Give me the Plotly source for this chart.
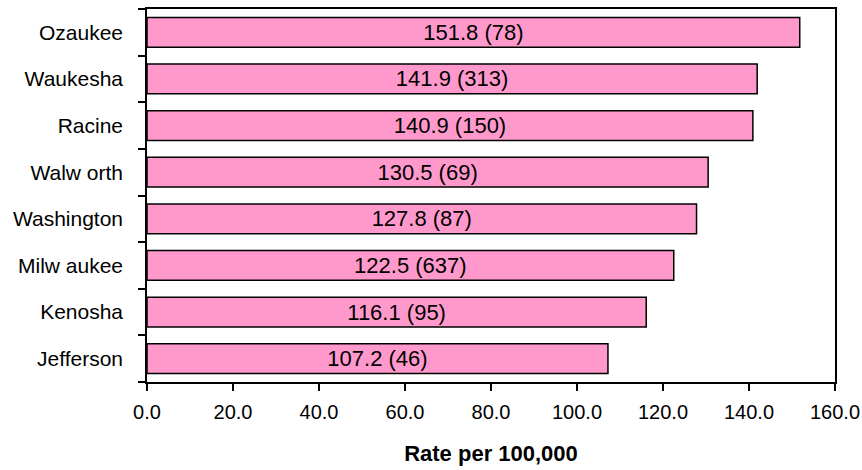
import plotly.graph_objects as go

counties = ["Jefferson", "Kenosha", "Milw aukee", "Washington", "Walw orth", "Racine", "Waukesha", "Ozaukee"]
rates = [107.2, 116.1, 122.5, 127.8, 130.5, 140.9, 141.9, 151.8]
counts = [46, 95, 637, 87, 69, 150, 313, 78]
x_ticks = [0, 20, 40, 60, 80, 100, 120, 140, 160]

labels = [f"{r:.1f} ({c})" for r, c in zip(rates, counts)]

FONT = "Liberation Sans, Arial, sans-serif"

fig = go.Figure(go.Bar(
    y=counties,
    x=rates,
    orientation="h",
    marker=dict(color="#FF99CC", line=dict(color="black", width=1.5)),
    text=labels,
    textposition="inside",
    insidetextanchor="middle",
    textfont=dict(family=FONT, size=22, color="black"),
    constraintext="none",
    width=0.64,
))

fig.update_layout(
    width=862, height=470,
    margin=dict(l=147, r=27, t=9, b=88),
    paper_bgcolor="white", plot_bgcolor="white",
    showlegend=False,
    font=dict(family=FONT, size=21, color="black"),
    xaxis=dict(
        range=[0, 160], tickvals=x_ticks, tickformat=".1f",
        ticks="outside", ticklen=7, tickwidth=1.5, tickcolor="black",
        showline=True, linecolor="black", linewidth=1.5, mirror=True,
        showgrid=False, zeroline=False, automargin=False,
        tickfont=dict(family=FONT, size=20),
        ticklabelstandoff=4,
        title=dict(text="<b>Rate per 100,000</b>", font=dict(family=FONT, size=22), standoff=24),
    ),
    yaxis=dict(
        type="category", categoryorder="array", categoryarray=counties,
        ticks="outside", tickson="boundaries", ticklen=7, tickwidth=1.5, tickcolor="black",
        showline=True, linecolor="black", linewidth=1.5, mirror=True,
        showgrid=False, zeroline=False, automargin=False,
        tickfont=dict(family=FONT, size=21),
        ticklabelstandoff=18,
    ),
)

# remove the page's default 8px body margin so the figure fills the window exactly
fig.write_html(
    "out.html",
    config={"displayModeBar": False},
    post_script="document.body.style.margin='0';document.body.style.overflow='hidden';",
)
